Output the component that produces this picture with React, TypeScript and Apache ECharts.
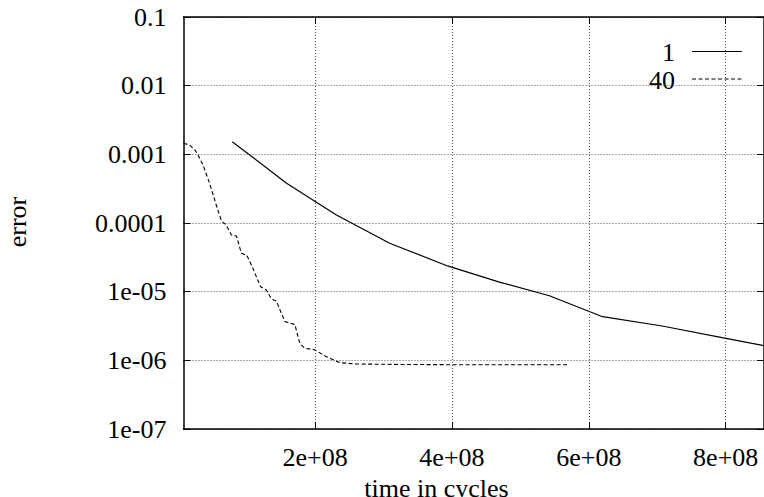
import React, { useEffect, useRef } from "react";
import * as echarts from "echarts";

// ---- data ----
const seriesNames = ["1", "40"];
const xTickValues = [2e8, 4e8, 6e8, 8e8];
const xTickLabels = ["2e+08", "4e+08", "6e+08", "8e+08"];
// y tick labels for exponents -7 .. -1
const yTickLabels = ["1e-07", "1e-06", "1e-05", "0.0001", "0.001", "0.01", "0.1"];
const xTitle = "time in cycles";
const yTitle = "error";

const run1X = [7.89e7, 1.583e8, 2.312e8, 3.09e8, 3.936e8, 4.694e8, 5.424e8, 6.201e8, 7.072e8, 7.947e8, 8.56e8];
const run1Y = [1.53e-3, 3.79e-4, 1.31e-4, 5.07e-5, 2.37e-5, 1.38e-5, 8.73e-6, 4.32e-6, 3.16e-6, 2.14e-6, 1.64e-6];

const run40X = [
  7.7e6, 1.678e7, 2.451e7, 2.888e7, 3.618e7, 4.566e7, 5.558e7, 6.317e7, 7.017e7, 7.775e7,
  8.505e7, 9.234e7, 1.0037e8, 1.0912e8, 1.2006e8, 1.2881e8, 1.3611e8, 1.434e8, 1.558e8, 1.7039e8,
  1.7768e8, 1.8498e8, 1.9956e8, 2.1663e8, 2.3603e8, 2.604e8, 3.2356e8, 4.2568e8, 5.7156e8,
];
const run40Y = [
  1.448e-3, 1.368e-3, 1.156e-3, 9.78e-4, 7.0e-4, 3.83e-4, 1.83e-4, 1.07e-4, 9.35e-5, 6.68e-5,
  6.47e-5, 3.62e-5, 3.37e-5, 2.19e-5, 1.19e-5, 1.057e-5, 7.82e-6, 7.31e-6, 3.66e-6, 3.33e-6,
  1.77e-6, 1.5e-6, 1.42e-6, 1.13e-6, 9.25e-7, 8.85e-7, 8.71e-7, 8.61e-7, 8.61e-7,
];

const X_MIN = 7.7e6;
const X_MAX = 8.56e8;
const Y_MIN = 1e-7;
const Y_MAX = 0.1;

const FONT = '"Liberation Serif", "Times New Roman", serif';
const FS = 26;

export default function App() {
  const ref = useRef<HTMLDivElement>(null);

  useEffect(() => {
    if (!ref.current) return;
    const chart = echarts.init(ref.current, null, { renderer: "svg" });

    const yFmt = (v: number) => {
      const e = Math.round(Math.log10(v));
      const idx = e + 7;
      return yTickLabels[idx] ?? "";
    };
    const xFmt = (v: number) => {
      const i = xTickValues.findIndex((t) => Math.abs(t - v) < 1);
      return i >= 0 ? xTickLabels[i] : "";
    };

    const frameLine = { show: true, onZero: false, lineStyle: { color: "#000", width: 1.5 } };
    const gridLine = { show: true, lineStyle: { color: "#555", width: 1, type: [1, 2] as any } };

    const option: any = {
      animation: false,
      backgroundColor: "#fff",
      grid: { left: 183.5, top: 17, right: -1, bottom: 68, containLabel: false },
      xAxis: [
        {
          type: "value",
          position: "bottom",
          min: X_MIN,
          max: X_MAX,
          axisLine: frameLine,
          axisTick: { show: true, inside: true, length: 7, customValues: xTickValues, lineStyle: { color: "#000" } },
          axisLabel: {
            show: true,
            customValues: xTickValues,
            formatter: xFmt,
            margin: 15,
            color: "#000",
            fontFamily: FONT,
            fontSize: FS,
          },
          splitLine: gridLine,
        },
        {
          type: "value",
          position: "top",
          min: X_MIN,
          max: X_MAX,
          axisLine: frameLine,
          axisTick: { show: true, inside: true, length: 7, customValues: xTickValues, lineStyle: { color: "#000" } },
          axisLabel: { show: false, customValues: xTickValues },
          splitLine: { show: false },
        },
      ],
      yAxis: [
        {
          type: "log",
          logBase: 10,
          position: "left",
          min: Y_MIN,
          max: Y_MAX,
          splitNumber: 6,
          axisLine: frameLine,
          axisTick: { show: true, inside: true, length: 7, lineStyle: { color: "#000" } },
          axisLabel: {
            show: true,
            formatter: yFmt,
            margin: 17,
            color: "#000",
            fontFamily: FONT,
            fontSize: FS,
          },
          splitLine: gridLine,
          minorTick: { show: false },
        },
        {
          type: "log",
          logBase: 10,
          position: "right",
          min: Y_MIN,
          max: Y_MAX,
          splitNumber: 6,
          axisLine: frameLine,
          axisTick: { show: true, inside: true, length: 7, lineStyle: { color: "#000" } },
          axisLabel: { show: false },
          splitLine: { show: false },
        },
      ],
      series: [
        {
          name: seriesNames[0],
          type: "line",
          xAxisIndex: 0,
          yAxisIndex: 0,
          data: run1X.map((x, i) => [x, run1Y[i]]),
          showSymbol: false,
          symbol: "none",
          lineStyle: { color: "#000", width: 1.2, type: "solid" },
          clip: true,
        },
        {
          name: seriesNames[1],
          type: "line",
          xAxisIndex: 0,
          yAxisIndex: 0,
          data: run40X.map((x, i) => [x, run40Y[i]]),
          showSymbol: false,
          symbol: "none",
          lineStyle: { color: "#000", width: 1.1, type: [4, 2.5] },
          clip: true,
        },
      ],
      graphic: [
        {
          type: "text",
          x: 436.5,
          y: 488.5,
          style: { text: xTitle, fontFamily: FONT, fontSize: FS, fill: "#000", align: "center", verticalAlign: "middle" },
        },
        {
          type: "text",
          x: 17.5,
          y: 222,
          rotation: Math.PI / 2,
          style: { text: yTitle, fontFamily: FONT, fontSize: FS, fill: "#000", align: "center", verticalAlign: "middle" },
        },
        {
          type: "text",
          x: 675,
          y: 52.7,
          style: { text: seriesNames[0], fontFamily: FONT, fontSize: FS, fill: "#000", align: "right", verticalAlign: "middle" },
        },
        {
          type: "text",
          x: 675,
          y: 80,
          style: { text: seriesNames[1], fontFamily: FONT, fontSize: FS, fill: "#000", align: "right", verticalAlign: "middle" },
        },
        {
          type: "line",
          shape: { x1: 692, y1: 51.5, x2: 742, y2: 51.5 },
          style: { stroke: "#000", lineWidth: 1.2 },
        },
        {
          type: "line",
          shape: { x1: 692, y1: 79, x2: 742, y2: 79 },
          style: { stroke: "#000", lineWidth: 1.1, lineDash: [4, 2.5] },
        },
      ],
    };

    chart.setOption(option);
    return () => chart.dispose();
  }, []);

  return (
    <div
      ref={ref}
      style={{ position: "fixed", left: 0, top: 0, width: 764, height: 497, background: "#fff" }}
    />
  );
}
